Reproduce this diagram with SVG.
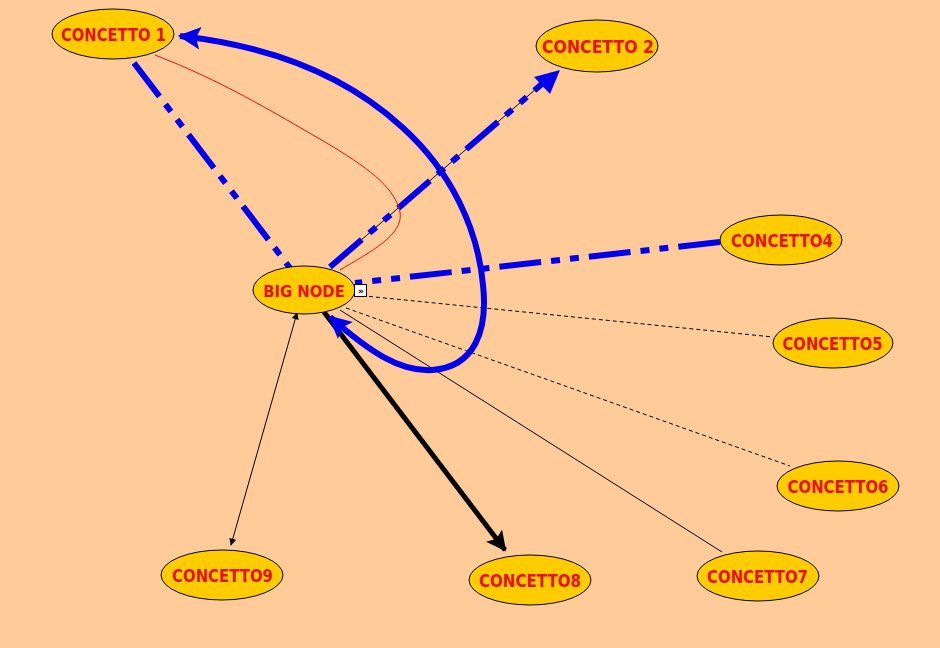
<svg xmlns="http://www.w3.org/2000/svg" width="940" height="648" viewBox="0 0 940 648">
<style>
.node ellipse{fill:#FFCC00;stroke:#000;stroke-width:1}
.node text{font-family:"DejaVu Sans","Liberation Sans",sans-serif;font-weight:bold;font-size:18px;fill:#E8101C;text-anchor:middle}
.node text.cond{font-family:"DejaVu Sans Condensed","DejaVu Sans",sans-serif;font-size:16.5px}
.blue{stroke:#0000EE;stroke-width:6;fill:none}
.dd{stroke-dasharray:42 10 9 10 9 10}
.thin{stroke:#000;stroke-width:1;fill:none}
.dash{stroke-dasharray:4 3}
</style>
<defs>
<marker id="ab" viewBox="0 0 10 10" refX="9" refY="5" markerWidth="4.2" markerHeight="3.8" orient="auto-start-reverse" markerUnits="strokeWidth"><path d="M0,0 L10,5 L0,10 L2,5 z" fill="#0000EE"/></marker>
<marker id="ak" viewBox="0 0 10 10" refX="9" refY="5" markerWidth="4.4" markerHeight="4" orient="auto" markerUnits="strokeWidth"><path d="M0,0 L10,5 L0,10 L2,5 z" fill="#000"/></marker>
<marker id="as" viewBox="0 0 10 10" refX="9" refY="5" markerWidth="10" markerHeight="7" orient="auto-start-reverse" markerUnits="strokeWidth"><path d="M0,0 L10,5 L0,10 z" fill="#000"/></marker>
</defs>
<rect width="940" height="648" fill="#FFCC99"/>
<g id="connectors">
<path class="blue dd" d="M134,63 L290,268"/>
<line class="thin" x1="330" y1="267" x2="551" y2="76"/>
<path class="blue dd" d="M330,267 L543,83"/>
<path d="M560,70 L534,77 L550,94 z" fill="#0000EE"/>
<path class="blue dd" d="M720,242 L355,283"/>
<path class="thin dash" d="M355,295 L773,337"/>
<path class="thin dash" d="M346,308 L790,466"/>
<path class="thin" d="M340,310 L722,552"/>
<path d="M324,312 L505,550" stroke="#000" stroke-width="5" fill="none" marker-end="url(#ak)"/>
<path class="thin" d="M297,313 L231,545" marker-start="url(#as)" marker-end="url(#as)"/>
<path class="blue" stroke-width="5" d="M330,317 C370,352 400,372 432,370 C475,367 488,330 483,285 C478,230 452,172 402,127 C342,72 262,45 180,36" marker-start="url(#ab)" marker-end="url(#ab)"/>
<path d="M155,55 C220,80 270,110 330,145 C375,172 395,190 400,212 C404,235 370,252 340,270" stroke="#EE1111" stroke-width="1" fill="none"/>
</g>
<g id="concetto1" class="node"><ellipse cx="113" cy="34" rx="61" ry="25"/><text x="113.5" y="41" textLength="105" lengthAdjust="spacingAndGlyphs">CONCETTO 1</text></g>
<g id="concetto2" class="node"><ellipse cx="597" cy="46" rx="61" ry="26"/><text x="598" y="53" textLength="112" lengthAdjust="spacingAndGlyphs">CONCETTO 2</text></g>
<g id="bignode" class="node"><ellipse cx="304" cy="290" rx="51" ry="24"/><text class="cond" x="304" y="296.5">BIG NODE</text></g>
<g id="collapse"><rect x="354.5" y="284.5" width="12" height="12" fill="#fff" stroke="#000" stroke-width="1"/><text x="361" y="294" font-family="DejaVu Sans,sans-serif" font-size="9" font-weight="bold" text-anchor="middle" fill="#000">»</text></g>
<g id="concetto4" class="node"><ellipse cx="781" cy="240" rx="61" ry="25"/><text x="782" y="247" textLength="102" lengthAdjust="spacingAndGlyphs">CONCETTO4</text></g>
<g id="concetto5" class="node"><ellipse cx="833" cy="343" rx="60" ry="25"/><text x="832.5" y="350" textLength="100" lengthAdjust="spacingAndGlyphs">CONCETTO5</text></g>
<g id="concetto6" class="node"><ellipse cx="838" cy="486" rx="61" ry="25"/><text x="838" y="493" textLength="101" lengthAdjust="spacingAndGlyphs">CONCETTO6</text></g>
<g id="concetto7" class="node"><ellipse cx="758" cy="576" rx="61" ry="25"/><text x="757.5" y="583" textLength="101" lengthAdjust="spacingAndGlyphs">CONCETTO7</text></g>
<g id="concetto8" class="node"><ellipse cx="530" cy="580" rx="61" ry="25"/><text x="530" y="587" textLength="102" lengthAdjust="spacingAndGlyphs">CONCETTO8</text></g>
<g id="concetto9" class="node"><ellipse cx="222" cy="575" rx="61" ry="25"/><text x="222.5" y="582" textLength="101" lengthAdjust="spacingAndGlyphs">CONCETTO9</text></g>
</svg>
